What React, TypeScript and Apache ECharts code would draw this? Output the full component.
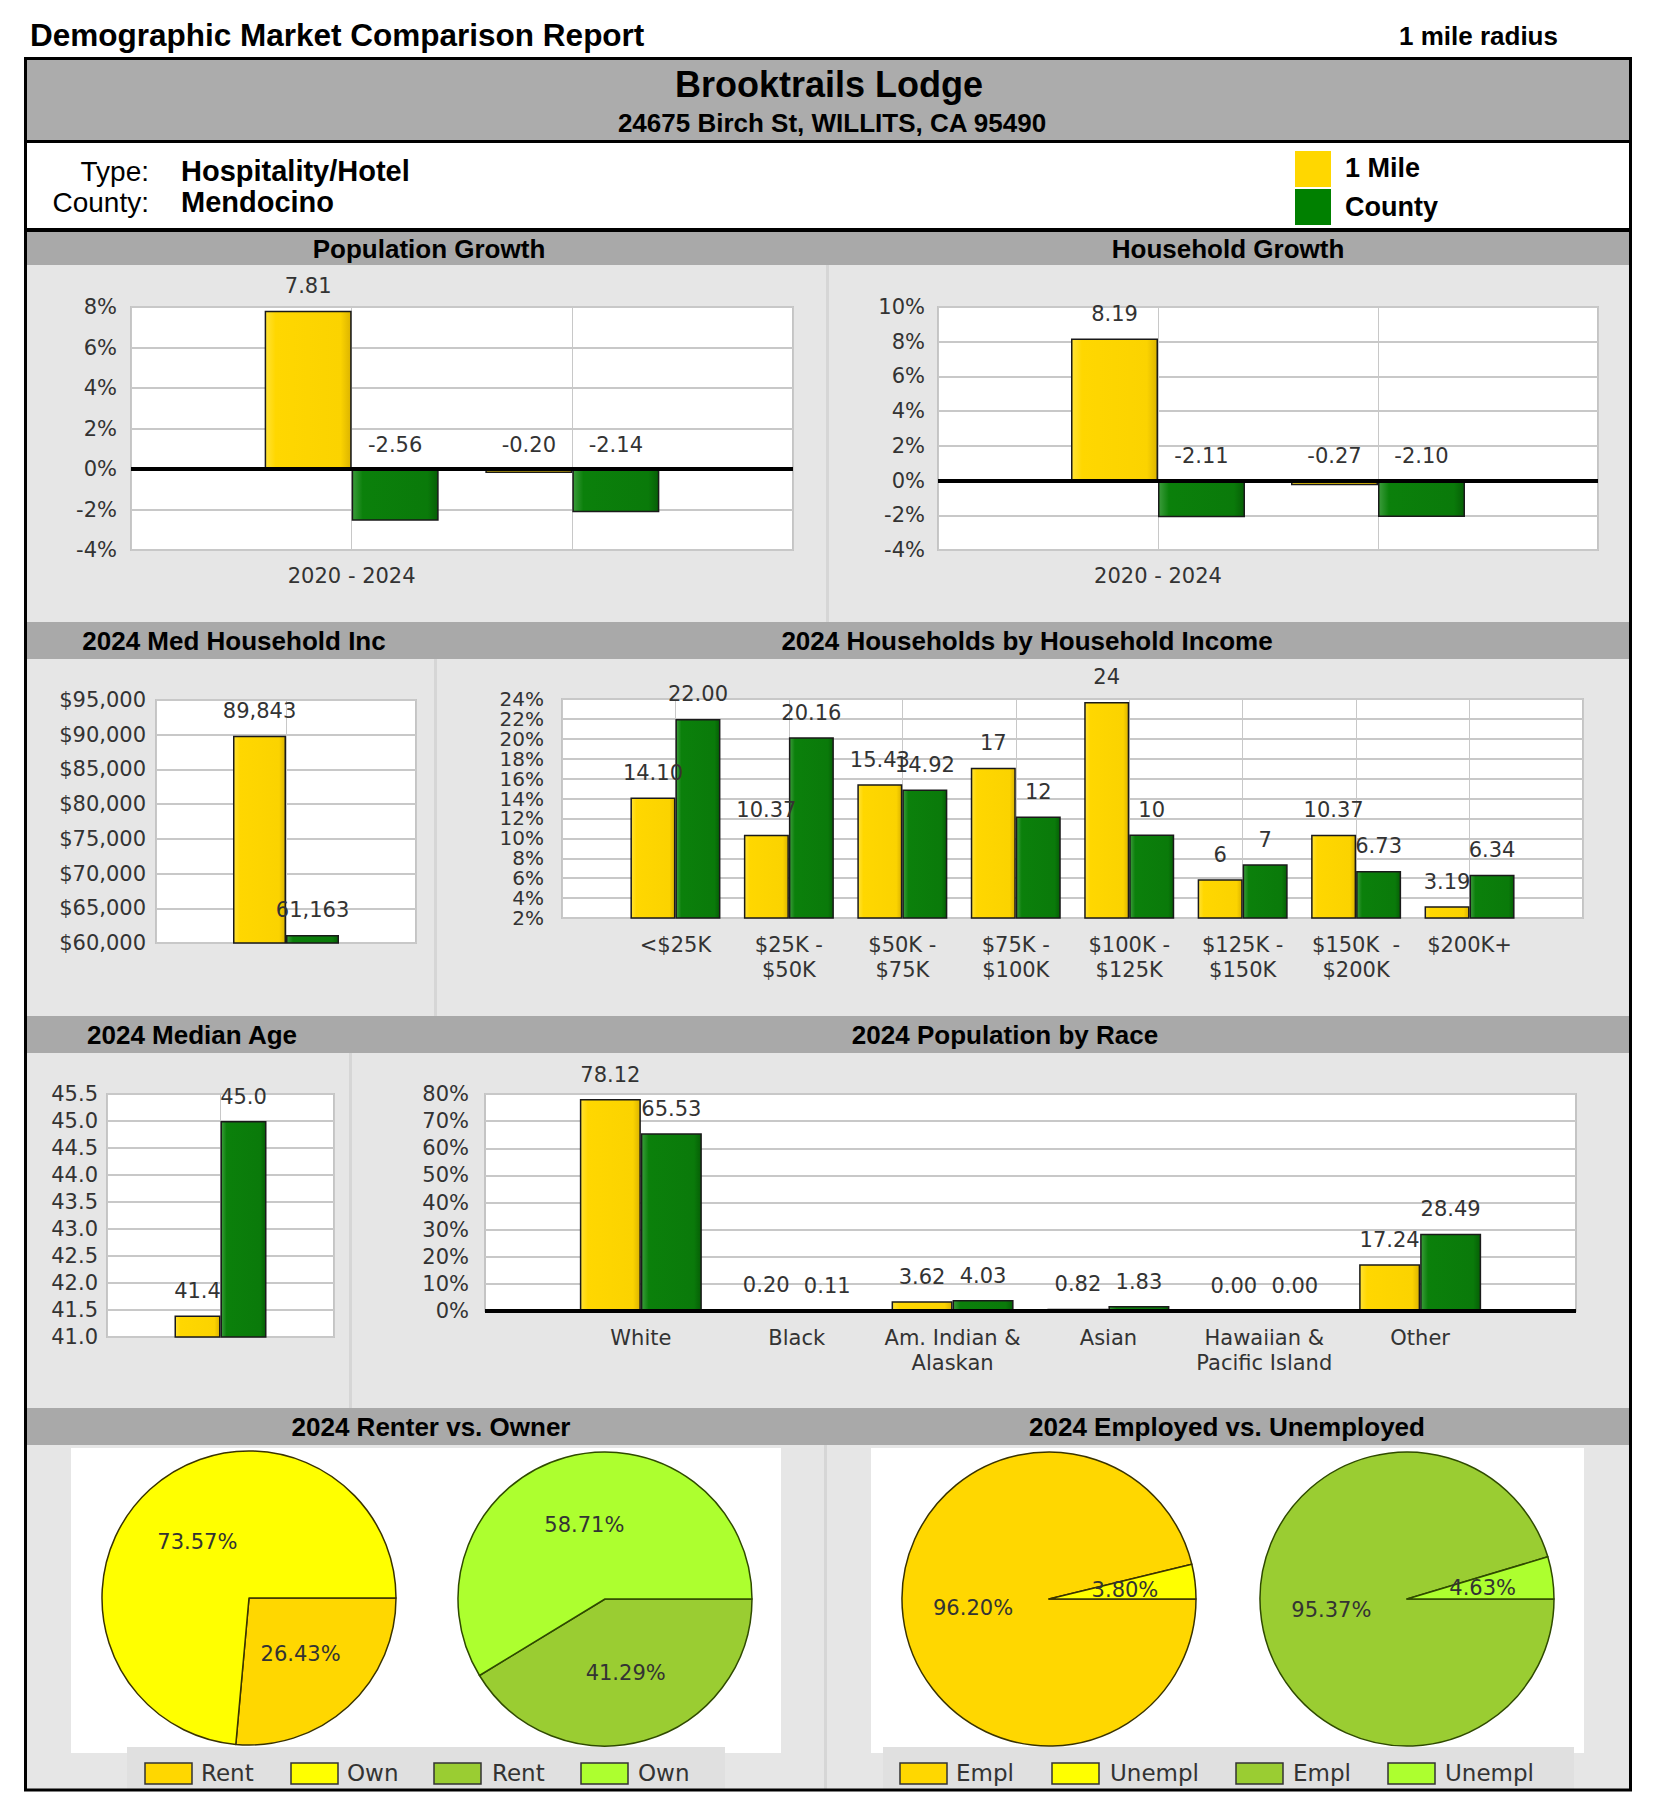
import React, { useEffect, useRef } from "react";
import * as echarts from "echarts";

// ---------------- DATA ----------------
const growthPeriods = ["2020 - 2024", ""];
const popGrowthMile = [7.81, -0.2];
const popGrowthCounty = [-2.56, -2.14];
const hhGrowthMile = [8.19, -0.27];
const hhGrowthCounty = [-2.11, -2.1];

const medIncCategories = [""];
const medIncMile = [89843];
const medIncCounty = [61163];

const incomeCategories = [
  "<$25K",
  "$25K -\n$50K",
  "$50K -\n$75K",
  "$75K -\n$100K",
  "$100K -\n$125K",
  "$125K -\n$150K",
  "$150K  -\n$200K",
  "$200K+",
];
const incomeMile = [14.1, 10.37, 15.43, 17.1, 23.7, 5.9, 10.37, 3.19];
const incomeMileLabels = ["14.10", "10.37", "15.43", "17", "24", "6", "10.37", "3.19"];
const incomeCounty = [22.0, 20.16, 14.92, 12.2, 10.4, 7.4, 6.73, 6.34];
const incomeCountyLabels = ["22.00", "20.16", "14.92", "12", "10", "7", "6.73", "6.34"];

const ageCategories = [""];
const ageMile = [41.4];
const ageCounty = [45.0];

const raceCategories = [
  "White",
  "Black",
  "Am. Indian &\nAlaskan",
  "Asian",
  "Hawaiian &\nPacific Island",
  "Other",
];
const raceMile = [78.12, 0.2, 3.62, 0.82, 0.0, 17.24];
const raceCounty = [65.53, 0.11, 4.03, 1.83, 0.0, 28.49];

const tenureNames = ["Rent", "Own"];
const tenureMile = [26.43, 73.57];
const tenureCounty = [41.29, 58.71];
const employNames = ["Empl", "Unempl"];
const employMile = [96.2, 3.8];
const employCounty = [95.37, 4.63];

// ---------------- STYLE ----------------
const FC = '"DejaVu Sans", Verdana, sans-serif';
const FH = '"Liberation Sans", Arial, sans-serif';
const TXT = "#333";
const GOLD = "#FFD700";
const YEL = "#FFFF00";
const YG = "#9ACD32";
const GY = "#ADFF2F";

const yellowFill = new echarts.graphic.LinearGradient(0, 0, 1, 0, [
  { offset: 0, color: "#ffe236" },
  { offset: 0.12, color: "#ffd700" },
  { offset: 0.88, color: "#fbd300" },
  { offset: 1, color: "#dcb400" },
]);
const greenFill = new echarts.graphic.LinearGradient(0, 0, 1, 0, [
  { offset: 0, color: "#3c9c3c" },
  { offset: 0.12, color: "#0b800b" },
  { offset: 0.88, color: "#0a7a0a" },
  { offset: 1, color: "#065f06" },
]);

function pad(arr: any[], fill: any) {
  return [fill, ...arr, fill];
}

// grid layouts
const G = [
  { l: 131, t: 307, w: 662, h: 243 },
  { l: 938, t: 307, w: 660, h: 243 },
  { l: 156, t: 700, w: 260, h: 243 },
  { l: 562, t: 699, w: 1021, h: 219 },
  { l: 107, t: 1094, w: 227, h: 243 },
  { l: 485, t: 1094, w: 1091, h: 217 },
];

function buildOption() {
  const els: any[] = [];
  const rect = (x: number, y: number, w: number, h: number, fill: string, z = -10, stroke?: string, lw?: number) =>
    els.push({
      type: "rect",
      z,
      silent: true,
      shape: { x, y, width: w, height: h },
      style: { fill, stroke: stroke || null, lineWidth: lw || 0 },
    });
  const text = (x: number, y: number, t: string, font: string, align = "left", fill = "#000") =>
    els.push({
      type: "text",
      z: 50,
      silent: true,
      x,
      y,
      style: {
        text: t,
        font,
        fill,
        align,
        verticalAlign: "middle",
        textAlign: align,
        textVerticalAlign: "middle",
      },
    });

  // header
  text(30, 35, "Demographic Market Comparison Report", `bold 31.5px ${FH}`);
  text(1399, 36, "1 mile radius", `bold 26px ${FH}`);
  rect(27, 60, 1602, 80, "#acacac");
  rect(26, 140, 1604, 3, "#000", 40);
  rect(26, 228, 1604, 4, "#000", 40);
  text(829, 84, "Brooktrails Lodge", `bold 36px ${FH}`, "center");
  text(832, 123, "24675 Birch St, WILLITS, CA 95490", `bold 26px ${FH}`, "center");
  text(149, 171, "Type:", `28px ${FH}`, "right");
  text(181, 171, "Hospitality/Hotel", `bold 29px ${FH}`);
  text(149, 202, "County:", `28px ${FH}`, "right");
  text(181, 202, "Mendocino", `bold 29px ${FH}`);
  rect(1295, 151, 36, 36, GOLD, 5);
  rect(1295, 189, 36, 36, "#008000", 5);
  text(1345, 168, "1 Mile", `bold 27px ${FH}`);
  text(1345, 207, "County", `bold 27px ${FH}`);

  // rows: bands + panels
  const rows = [
    { bt: 232, bb: 265, pb: 622, sep: 826 },
    { bt: 622, bb: 659, pb: 1016, sep: 434 },
    { bt: 1016, bb: 1053, pb: 1408, sep: 349 },
    { bt: 1408, bb: 1445, pb: 1790, sep: 824 },
  ];
  rows.forEach((r) => {
    rect(27, r.bt, 1602, r.bb - r.bt, "#a9a9a9");
    rect(27, r.bb, 1602, r.pb - r.bb, "#e6e6e6");
    rect(r.sep, r.bb, 3, r.pb - r.bb, "#d6d6d6", -9);
  });
  const titleFont = `bold 26px ${FH}`;
  text(429, 249, "Population Growth", titleFont, "center");
  text(1228, 249, "Household Growth", titleFont, "center");
  text(234, 641, "2024 Med Household Inc", titleFont, "center");
  text(1027, 641, "2024 Households by Household Income", titleFont, "center");
  text(192, 1035, "2024 Median Age", titleFont, "center");
  text(1005, 1035, "2024 Population by Race", titleFont, "center");
  text(431, 1427, "2024 Renter vs. Owner", titleFont, "center");
  text(1227, 1427, "2024 Employed vs. Unemployed", titleFont, "center");

  // plot backgrounds
  G.forEach((g) => rect(g.l, g.t, g.w, g.h, "#fff", -5, "#c4c4c4", 2));

  // pie boxes and legends
  rect(71, 1448, 710, 305, "#fff", -5);
  rect(871, 1448, 713, 305, "#fff", -5);
  rect(127, 1747, 598, 42, "#e0e0e0", -4);
  rect(883, 1747, 691, 42, "#e0e0e0", -4);
  const legendItems = [
    { bx: 145, tx: 201, c: GOLD, t: tenureNames[0] },
    { bx: 291, tx: 347, c: YEL, t: tenureNames[1] },
    { bx: 434, tx: 492, c: YG, t: tenureNames[0] },
    { bx: 581, tx: 638, c: GY, t: tenureNames[1] },
    { bx: 900, tx: 956, c: GOLD, t: employNames[0] },
    { bx: 1052, tx: 1110, c: YEL, t: employNames[1] },
    { bx: 1236, tx: 1293, c: YG, t: employNames[0] },
    { bx: 1388, tx: 1445, c: GY, t: employNames[1] },
  ];
  legendItems.forEach((it) => {
    rect(it.bx, 1763, 47, 21, it.c, 5, "#333", 1.5);
    text(it.tx, 1773, it.t, `23px ${FC}`, "left", TXT);
  });

  // outer frame
  els.push({
    type: "rect",
    z: 45,
    silent: true,
    shape: { x: 25.5, y: 58.5, width: 1605, height: 1731.5 },
    style: { fill: null, stroke: "#000", lineWidth: 3 },
  });

  // ---------- axes ----------
  const cats = [
    pad(growthPeriods, ""),
    pad(growthPeriods, ""),
    pad(medIncCategories, ""),
    pad(incomeCategories, ""),
    pad(ageCategories, ""),
    pad(raceCategories, ""),
  ];
  const xMargins = [13, 13, 13, 14, 13, 14];
  const vLines = [true, true, true, true, true, false];
  const xAxis = G.map((g, i) => ({
    type: "category",
    gridIndex: i,
    data: cats[i],
    boundaryGap: false,
    axisLine: { show: false },
    axisTick: { show: false },
    axisLabel: {
      interval: 0,
      margin: xMargins[i],
      fontSize: 21,
      lineHeight: 25,
      color: TXT,
      fontFamily: FC,
    },
    splitLine: { show: vLines[i], interval: 0, lineStyle: { color: "#c8c8c8", width: 1 } },
  }));

  const yCfg = [
    { min: -4, max: 8, interval: 2, fmt: (v: number) => v + "%", m: 14, fs: 21 },
    { min: -4, max: 10, interval: 2, fmt: (v: number) => v + "%", m: 13, fs: 21 },
    { min: 60000, max: 95000, interval: 5000, fmt: (v: number) => "$" + v.toLocaleString("en-US"), m: 10, fs: 21 },
    { min: 2, max: 24, interval: 2, fmt: (v: number) => v + "%", m: 18, fs: 20 },
    { min: 41, max: 45.5, interval: 0.5, fmt: (v: number) => v.toFixed(1), m: 9, fs: 21 },
    { min: 0, max: 80, interval: 10, fmt: (v: number) => v + "%", m: 16, fs: 21 },
  ];
  const yAxis = yCfg.map((c, i) => ({
    type: "value",
    gridIndex: i,
    min: c.min,
    max: c.max,
    interval: c.interval,
    axisLine: { show: false },
    axisTick: { show: false },
    axisLabel: {
      formatter: c.fmt,
      margin: c.m,
      fontSize: c.fs,
      color: TXT,
      fontFamily: FC,
      showMinLabel: true,
      showMaxLabel: true,
      hideOverlap: false,
    },
    splitLine: { show: true, lineStyle: { color: "#c8c8c8", width: 2 } },
  }));

  const grid = G.map((g) => ({ left: g.l, top: g.t, width: g.w, height: g.h, containLabel: false }));

  const zeroLine = {
    silent: true,
    symbol: "none",
    label: { show: false },
    emphasis: { disabled: true },
    lineStyle: { color: "#000", width: 4, type: "solid" },
    data: [{ yAxis: 0 }],
  };

  const barWidths = [87, 87, 53, 45, 46, 61];
  const fmtNum = {
    g: (v: number) => v.toFixed(2),
    inc: (v: number) => v.toLocaleString("en-US"),
    age: (v: number) => v.toFixed(1),
  };

  const bar = (i: number, data: any[], fill: any, fmt: (p: any) => string, mark?: any) => ({
    type: "bar",
    xAxisIndex: i,
    yAxisIndex: i,
    data,
    barWidth: barWidths[i],
    barGap: "0%",
    clip: true,
    silent: true,
    itemStyle: { color: fill, borderColor: "#1a1a1a", borderWidth: 1.5 },
    label: {
      show: true,
      position: "top",
      distance: 14,
      formatter: fmt,
      fontSize: 21,
      color: TXT,
      fontFamily: FC,
    },
    markLine: mark,
    z: 3,
  });

  const series: any[] = [
    bar(0, pad(popGrowthMile, null), yellowFill, (p) => fmtNum.g(p.value), zeroLine),
    bar(0, pad(popGrowthCounty, null), greenFill, (p) => fmtNum.g(p.value)),
    bar(1, pad(hhGrowthMile, null), yellowFill, (p) => fmtNum.g(p.value), zeroLine),
    bar(1, pad(hhGrowthCounty, null), greenFill, (p) => fmtNum.g(p.value)),
    bar(2, pad(medIncMile, null), yellowFill, (p) => fmtNum.inc(p.value)),
    bar(2, pad(medIncCounty, null), greenFill, (p) => fmtNum.inc(p.value)),
    bar(3, pad(incomeMile, null), yellowFill, (p) => incomeMileLabels[p.dataIndex - 1]),
    bar(3, pad(incomeCounty, null), greenFill, (p) => incomeCountyLabels[p.dataIndex - 1]),
    bar(4, pad(ageMile, null), yellowFill, (p) => fmtNum.age(p.value)),
    bar(4, pad(ageCounty, null), greenFill, (p) => fmtNum.age(p.value)),
    bar(5, pad(raceMile, null), yellowFill, (p) => fmtNum.g(p.value), zeroLine),
    bar(5, pad(raceCounty, null), greenFill, (p) => fmtNum.g(p.value)),
  ];

  const pie = (center: number[], names: string[], vals: number[], colors: string[], border: string) => ({
    type: "pie",
    center,
    radius: 147,
    startAngle: 0,
    clockwise: true,
    silent: true,
    emphasis: { disabled: true },
    data: names.map((n, k) => ({ name: n, value: vals[k], itemStyle: { color: colors[k] } })),
    itemStyle: { borderColor: border, borderWidth: 1.5 },
    label: {
      show: true,
      position: "inside",
      formatter: (p: any) => p.value.toFixed(2) + "%",
      fontSize: 21,
      color: TXT,
      fontFamily: FC,
    },
    labelLine: { show: false },
    z: 3,
  });

  series.push(pie([249, 1598], tenureNames, tenureMile, [GOLD, YEL], "#3a3300"));
  series.push(pie([605, 1599], tenureNames, tenureCounty, [YG, GY], "#2f4a00"));
  series.push(pie([1049, 1599], employNames, employMile, [GOLD, YEL], "#3a3300"));
  series.push(pie([1407, 1599], employNames, employCounty, [YG, GY], "#2f4a00"));

  return {
    animation: false,
    backgroundColor: "#fff",
    tooltip: { show: false },
    grid,
    xAxis,
    yAxis,
    series,
    graphic: { elements: els },
  };
}

export default function App() {
  const ref = useRef<HTMLDivElement>(null);
  useEffect(() => {
    document.body.style.margin = "0";
    if (!ref.current) return;
    const chart = echarts.init(ref.current, null, { renderer: "svg" });
    chart.setOption(buildOption() as any);
    return () => chart.dispose();
  }, []);
  return <div ref={ref} style={{ width: 1660, height: 1818 }} />;
}
